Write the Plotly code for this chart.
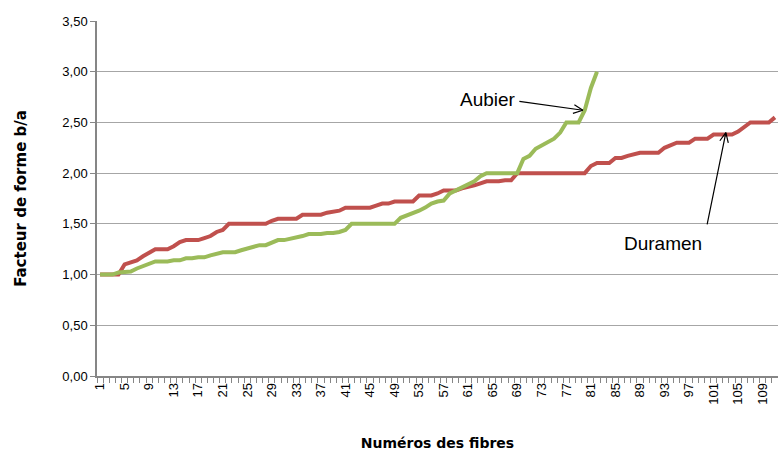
import plotly.graph_objects as go

fibres = list(range(1, 112))

duramen = [1.00, 1.00, 1.00, 1.00, 1.10, 1.12, 1.14, 1.18, 1.22, 1.25,
           1.25, 1.25, 1.28, 1.32, 1.34, 1.34, 1.34, 1.36, 1.38, 1.42,
           1.44, 1.50, 1.50, 1.50, 1.50, 1.50, 1.50, 1.50, 1.53, 1.55,
           1.55, 1.55, 1.55, 1.59, 1.59, 1.59, 1.59, 1.61, 1.62, 1.63,
           1.66, 1.66, 1.66, 1.66, 1.66, 1.68, 1.70, 1.70, 1.72, 1.72,
           1.72, 1.72, 1.78, 1.78, 1.78, 1.80, 1.83, 1.83, 1.83, 1.85,
           1.86, 1.88, 1.90, 1.92, 1.92, 1.92, 1.93, 1.93, 2.00, 2.00,
           2.00, 2.00, 2.00, 2.00, 2.00, 2.00, 2.00, 2.00, 2.00, 2.00,
           2.07, 2.10, 2.10, 2.10, 2.15, 2.15, 2.17, 2.19, 2.20, 2.20,
           2.20, 2.20, 2.25, 2.27, 2.30, 2.30, 2.30, 2.34, 2.34, 2.34,
           2.38, 2.38, 2.38, 2.38, 2.41, 2.45, 2.50, 2.50, 2.50, 2.50,
           2.55]

aubier = [1.00, 1.00, 1.00, 1.02, 1.03, 1.03, 1.06, 1.08, 1.10, 1.13,
          1.13, 1.13, 1.14, 1.14, 1.16, 1.16, 1.17, 1.17, 1.19, 1.21,
          1.22, 1.22, 1.22, 1.24, 1.26, 1.28, 1.29, 1.29, 1.31, 1.34,
          1.34, 1.35, 1.36, 1.38, 1.40, 1.40, 1.40, 1.41, 1.41, 1.42,
          1.44, 1.50, 1.50, 1.50, 1.50, 1.50, 1.50, 1.50, 1.50, 1.56,
          1.58, 1.60, 1.63, 1.66, 1.70, 1.72, 1.73, 1.80, 1.83, 1.85,
          1.89, 1.92, 1.97, 2.00, 2.00, 2.00, 2.00, 2.00, 2.00, 2.14,
          2.17, 2.24, 2.27, 2.30, 2.34, 2.40, 2.50, 2.50, 2.50, 2.62,
          2.84, 3.00]

x_tick_vals = list(range(1, 112, 4))
x_tick_text = [str(v) for v in x_tick_vals]
y_tick_vals = [0, 0.5, 1.0, 1.5, 2.0, 2.5, 3.0, 3.5]

RED = "#C0504D"
GREEN = "#9BBB59"
FONT = "Liberation Sans"
TFONT = "DejaVu Sans"

fig = go.Figure()
fig.add_trace(go.Scatter(x=fibres, y=duramen, mode="lines", name="Duramen",
                         line=dict(color=RED, width=4), showlegend=False))
fig.add_trace(go.Scatter(x=fibres[:len(aubier)], y=aubier, mode="lines", name="Aubier",
                         line=dict(color=GREEN, width=4), showlegend=False))

ARROW = dict(showarrow=True, arrowhead=0, arrowwidth=1.2, arrowcolor="black", text="")

# Aubier label and arrow
fig.add_annotation(x=79.7, y=2.62, ax=69.1, ay=2.71, axref="x", ayref="y", **ARROW)
fig.add_annotation(x=79.7, y=2.62, ax=-11.5, ay=3.5, **ARROW)
fig.add_annotation(x=79.7, y=2.62, ax=-10, ay=-6.5, **ARROW)
fig.add_annotation(x=64.2, y=2.73, text="Aubier", showarrow=False,
                   font=dict(family=FONT, size=19, color="black"))

# Duramen label and arrow
fig.add_annotation(x=103.0, y=2.40, ax=99.9, ay=1.48, axref="x", ayref="y", **ARROW)
fig.add_annotation(x=103.0, y=2.40, ax=2.8, ay=11.7, **ARROW)
fig.add_annotation(x=103.0, y=2.40, ax=-7.1, ay=9.7, **ARROW)
fig.add_annotation(x=92.8, y=1.31, text="Duramen", showarrow=False,
                   font=dict(family=FONT, size=19, color="black"))

fig.update_layout(
    width=778, height=459,
    margin=dict(l=97, r=0, t=21, b=83),
    paper_bgcolor="white", plot_bgcolor="white",
    separators=", ",
    font=dict(family=FONT, size=13, color="black"),
    xaxis=dict(
        range=[0.5, 111.5], tickmode="array", tickvals=x_tick_vals, ticktext=x_tick_text,
        tickangle=-90, ticks="", showgrid=False, zeroline=False, automargin=False,
        showline=True, linecolor="#868686", linewidth=1.5,
        tickfont=dict(family=FONT, size=13),
        minor=dict(tickmode="linear", tick0=0.5, dtick=1, ticks="outside",
                   ticklen=5, tickcolor="#868686", showgrid=False),
        title=dict(text="<b>Numéros des fibres</b>", font=dict(family=TFONT, size=14),
                   standoff=35),
    ),
    yaxis=dict(
        range=[0, 3.5], tickmode="array", tickvals=y_tick_vals, tickformat=".2f",
        showgrid=True, gridcolor="#A6A6A6", gridwidth=1, zeroline=False, automargin=False,
        showline=True, linecolor="#868686", linewidth=1.5,
        ticks="outside", ticklen=5, tickcolor="#868686",
        tickfont=dict(family=FONT, size=13),
        title=dict(text="<b>Facteur de forme b/a</b>", font=dict(family=TFONT, size=15),
                   standoff=32),
    ),
)

fig.write_html("out.html", config={"displayModeBar": False},
               post_script="document.body.style.margin='0';document.body.style.overflow='hidden';")
